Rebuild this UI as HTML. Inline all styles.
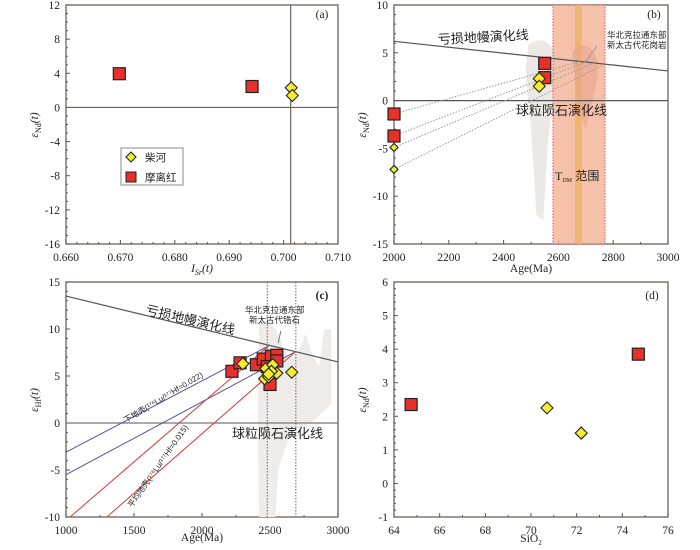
<!DOCTYPE html>
<html><head><meta charset="utf-8"><style>
body{margin:0;background:#fff}
svg{display:block;font-family:"Liberation Serif","Noto Serif CJK SC",serif}
.t{font-size:11.5px;fill:#222}
.cn{font-family:"Liberation Sans","Noto Sans CJK SC",sans-serif}
</style></head><body>
<svg id="s" width="700" height="550" viewBox="0 0 700 550"></svg>
<script>
// Panel a data
const aSqX=[0.6698,0.6942], aSqY=[3.95,2.45];
const aDiX=[0.7014,0.7016], aDiY=[2.3,1.4];
const aXTicks=[0.660,0.670,0.680,0.690,0.700,0.710];
const aYTicks=[12,8,4,0,-4,-8,-12,-16];
// Panel b data
const bSqX=[2550,2550,2000,2000], bSqY=[3.9,2.4,-1.4,-3.7];
const bDiX=[2530,2530,2000,2000], bDiY=[2.3,1.5,-4.9,-7.2];
const bDotEndX=[2680,2700,2730,2770], bDotStartY=[-1.4,-3.7,-4.9,-7.2];
const bXTicks=[2000,2200,2400,2600,2800,3000];
const bYTicks=[10,5,0,-5,-10,-15];
// Panel c data
const cSqX=[2220,2280,2400,2450,2510,2550,2550,2500,2480], cSqY=[5.5,6.4,6.2,6.8,7.1,7.2,6.6,4.1,6.0];
const cDiX=[2300,2470,2520,2460,2490,2550,2660,2510,2490], cDiY=[6.3,5.8,6.2,4.7,4.9,5.3,5.4,5.5,5.2];
const cXTicks=[1000,1500,2000,2500,3000];
const cYTicks=[15,10,5,0,-5,-10];
// Panel d data
const dSqX=[64.75,74.7], dSqY=[2.35,3.85];
const dDiX=[70.7,72.2], dDiY=[2.25,1.5];
const dXTicks=[64,66,68,70,72,74,76];
const dYTicks=[6,5,4,3,2,1,0,-1];

const NS="http://www.w3.org/2000/svg", svg=document.getElementById('s');
function el(tag,at,parent,txt){const e=document.createElementNS(NS,tag);for(const k in at)e.setAttribute(k,at[k]);if(txt!==undefined)e.textContent=txt;(parent||svg).appendChild(e);return e;}
function lin(d0,d1,r0,r1){return v=>r0+(v-d0)*(r1-r0)/(d1-d0);}

function panel(name,x0,x1,y0,y1,xd,yd,xt,yt,xfmt,minorX,minorY){
  const g=el('g',{});
  
  
  const X=lin(xd[0],xd[1],x0,x1), Y=lin(yd[0],yd[1],y1,y0);
  const fr=el('rect',{x:x0,y:y0,width:x1-x0,height:y1-y0,fill:'none',stroke:'#6b625c','stroke-width':1.3},g);
  
  
  xt.forEach(v=>{const t=el('text',{x:X(v),y:y1+17,'text-anchor':'middle',class:'t'},g,xfmt(v));
    
    el('line',{x1:X(v),x2:X(v),y1:y1,y2:y1-4,stroke:'#555'},g);});
  for(let i=0;i<xt.length-1;i++)for(let k=1;k<minorX;k++){const v=xt[i]+(xt[i+1]-xt[i])*k/minorX;el('line',{x1:X(v),x2:X(v),y1:y1,y2:y1-2,stroke:'#555'},g);}
  yt.forEach(v=>{const t=el('text',{x:x0-6,y:Y(v)+4,'text-anchor':'end',class:'t'},g,v);
    
    el('line',{x1:x0,x2:x0+4,y1:Y(v),y2:Y(v),stroke:'#555'},g);});
  for(let i=0;i<yt.length-1;i++)for(let k=1;k<minorY;k++){const v=yt[i]+(yt[i+1]-yt[i])*k/minorY;el('line',{x1:x0,x2:x0+2,y1:Y(v),y2:Y(v),stroke:'#555'},g);}
  return {g,X,Y};
}
function sq(g,x,y){const r=el('rect',{x:x-6,y:y-6,width:12,height:12,fill:'#e8302a',stroke:'#222','stroke-width':1.2},g);}
function di(g,x,y,s){s=s||6;const p=el('path',{d:`M${x} ${y-s}L${x+s} ${y}L${x} ${y+s}L${x-s} ${y}Z`,fill:'#f6ee2a',stroke:'#222','stroke-width':1.1},g);}
function ytitle(g,x,y,sub){const t=el('text',{transform:`translate(${x},${y}) rotate(-90)`,'text-anchor':'middle',class:'t','font-style':'italic'},g);
  
  el('tspan',{},t,'ε');el('tspan',{style:'font-size:8px','dy':'3','font-style':'normal'},t,sub);el('tspan',{'dy':'-3'},t,'(t)');}
function lbl(g,x,y,s,name,extra){const t=el('text',Object.assign({x:x,y:y,class:'t'},extra||{}),g,s);return t;}

// ===== Panel a
{const P=panel('panel-a',66,338,5,244,[0.660,0.710],[-16,12],aXTicks,aYTicks,v=>v.toFixed(3),5,4);
 const g=P.g,X=P.X,Y=P.Y;
 el('line',{x1:66,x2:338,y1:Y(0),y2:Y(0),stroke:'#6b625c','stroke-width':1.2},g);
 el('line',{x1:X(0.7013),x2:X(0.7013),y1:5,y2:244,stroke:'#6b625c','stroke-width':1.2},g);
 aSqX.forEach((v,i)=>sq(g,X(v),Y(aSqY[i])));
 aDiX.forEach((v,i)=>di(g,X(v),Y(aDiY[i])));
 lbl(g,322,18,'(a)','panel-label',{'text-anchor':'middle'});
 const t=lbl(g,202,272,'','x-axis-title',{'text-anchor':'middle','font-style':'italic'});
 el('tspan',{},t,'I');el('tspan',{style:'font-size:8px',dy:3},t,'Sr');el('tspan',{dy:-3},t,'(t)');
 ytitle(g,38,125,'Nd');
 const lg=el('g',{},g);
 el('rect',{x:121,y:148,width:62,height:37,fill:'#fff',stroke:'#888'},lg);
 di(lg,131,157,5);lbl(lg,145,161,'柴河','legend-label-chaihe',{class:'t cn',style:'font-size:10.5px'});
 el('rect',{x:126,y:172,width:10,height:10,fill:'#e8302a',stroke:'#222'},lg);lbl(lg,145,181,'摩离红','legend-label-molihong',{class:'t cn',style:'font-size:10.5px'});
}
// ===== Panel b
{const P=panel('panel-b',394,668,5,244,[2000,3000],[-15,10],bXTicks,bYTicks,v=>v,2,5);
 const g=P.g,X=P.X,Y=P.Y;
 el('path',{d:`M${X(2490)} ${Y(5.8)}C${X(2540)} ${Y(7)} ${X(2600)} ${Y(6)} ${X(2590)} ${Y(3)}L${X(2560)} ${Y(-5)}L${X(2545)} ${Y(-12.5)}L${X(2520)} ${Y(-12)}L${X(2500)} ${Y(-3)}L${X(2480)} ${Y(3)}Z`,fill:'#ece8e6'},g);
 el('rect',{x:X(2580),y:5,width:X(2770)-X(2580),height:239,fill:'#f5b79c',opacity:0.85,stroke:'#e04040','stroke-dasharray':'1.5,1.5'},g);
 el('rect',{x:X(2660),y:5,width:X(2685)-X(2660),height:239,fill:'#f0b36a',opacity:0.9},g);
 el('path',{d:`M${X(2650)} ${Y(5)}C${X(2680)} ${Y(6.5)} ${X(2760)} ${Y(6)} ${X(2740)} ${Y(2)}L${X(2700)} ${Y(-3)}L${X(2670)} ${Y(-1)}Z`,fill:'#e8a58a',opacity:0.6},g);
 const dm=el('line',{x1:X(2000),y1:Y(6.2),x2:X(3000),y2:Y(3.1),stroke:'#555','stroke-width':1.2},g);
 el('line',{x1:394,x2:668,y1:Y(0),y2:Y(0),stroke:'#555','stroke-width':1.2},g);
 bDotEndX.forEach((v,i)=>{const ye=6.2-(v-2000)*3.1/1000;el('line',{x1:X(2000),y1:Y(bDotStartY[i]),x2:X(v),y2:Y(ye),stroke:'#999','stroke-dasharray':'1.5,1.5'},g);});
 el('line',{x1:X(2700),y1:Y(4.1),x2:X(2740),y2:Y(5.7),stroke:'#999'},g);
 bSqX.forEach((v,i)=>sq(g,X(v),Y(bSqY[i])));
 bDiX.forEach((v,i)=>di(g,X(v),Y(bDiY[i]),i<2?6:4));
 lbl(g,654,18,'(b)','panel-label',{'text-anchor':'middle'});
 lbl(g,438,44,'亏损地幔演化线','dm-label',{class:'t cn',fill:'#555',style:'font-size:13px',transform:'rotate(-3 438 44)'});
 lbl(g,516,115,'球粒陨石演化线','chondrite-label',{class:'t cn',style:'font-size:13px',fill:'#555'});
 lbl(g,607,38,'华北克拉通东部','ncc-label-1',{class:'t cn',style:'font-size:8.5px'});
 lbl(g,607,48,'新太古代花岗岩','ncc-label-2',{class:'t cn',style:'font-size:8.5px'});
 const tt=lbl(g,555,180,'','tdm-label',{fill:'#a06050',style:'font-size:12px'});
 el('tspan',{},tt,'T');el('tspan',{style:'font-size:6px',dy:2},tt,'DM');el('tspan',{dy:-2,class:'cn'},tt,' 范围');
 lbl(g,531,272,'Age(Ma)','x-axis-title',{'text-anchor':'middle'});
 ytitle(g,366,125,'Nd');
}
// ===== Panel c
{const P=panel('panel-c',66,338,282,517,[1000,3000],[-10,15],cXTicks,cYTicks,v=>v,2,5);
 const g=P.g,X=P.X,Y=P.Y;
 el('path',{d:`M${X(2420)} ${Y(10.5)}C${X(2480)} ${Y(11.5)} ${X(2560)} ${Y(10)} ${X(2600)} ${Y(8)}C${X(2650)} ${Y(6)} ${X(2700)} ${Y(7)} ${X(2760)} ${Y(9.5)}L${X(2820)} ${Y(7)}L${X(2860)} ${Y(6)}L${X(2900)} ${Y(10)}L${X(2950)} ${Y(10)}L${X(2950)} ${Y(2)}L${X(2800)} ${Y(0)}L${X(2650)} ${Y(-1)}L${X(2560)} ${Y(-5)}L${X(2540)} ${Y(-10)}L${X(2420)} ${Y(-10)}L${X(2410)} ${Y(0)}Z`,fill:'#eeebe9'},g);
 el('line',{x1:X(1000),y1:Y(13.5),x2:X(3000),y2:Y(6.5),stroke:'#555','stroke-width':1.2},g);
 el('line',{x1:66,x2:338,y1:Y(0),y2:Y(0),stroke:'#777','stroke-width':1.2},g);
 [2480,2690].forEach(v=>el('line',{x1:X(v),x2:X(v),y1:282,y2:517,stroke:'#666','stroke-dasharray':'1.5,1.5'},g));
 el('line',{x1:X(1000),y1:Y(-3.1),x2:X(2490),y2:Y(8.2),stroke:'#5552a0'},g);
 el('line',{x1:X(1000),y1:Y(-5.5),x2:X(2690),y2:Y(7.6),stroke:'#5552a0'},g);
 el('line',{x1:X(1030),y1:Y(-10),x2:X(2490),y2:Y(8.2),stroke:'#d83a3a'},g);
 el('line',{x1:X(1300),y1:Y(-10),x2:X(2690),y2:Y(7.6),stroke:'#d83a3a'},g);
 el('line',{x1:X(2580),y1:Y(9.8),x2:X(2560),y2:Y(8.5),stroke:'#777'},g);
 cSqX.forEach((v,i)=>sq(g,X(v),Y(cSqY[i])));
 cDiX.forEach((v,i)=>di(g,X(v),Y(cDiY[i])));
 lbl(g,322,299,'(c)','panel-label',{'text-anchor':'middle','font-weight':'bold'});
 lbl(g,145,314,'亏损地幔演化线','dm-label',{class:'t cn',fill:'#555',style:'font-size:13px',transform:'rotate(13 145 314)'});
 lbl(g,232,438,'球粒陨石演化线','chondrite-label',{class:'t cn',style:'font-size:13px',fill:'#555'});
 lbl(g,245,313,'华北克拉通东部','ncc-label-1',{class:'t cn',style:'font-size:8.5px'});
 lbl(g,249,323,'新太古代锆石','ncc-label-2',{class:'t cn',style:'font-size:8.5px'});
 lbl(g,126,423,'下地壳(¹⁷⁶Lu/¹⁷⁷Hf=0.022)','lower-crust-label',{class:'t cn',style:'font-size:8px',fill:'#555',transform:'rotate(-31 126 423)'});
 lbl(g,132,508,'平均地壳(¹⁷⁶Lu/¹⁷⁷Hf=0.015)','avg-crust-label',{class:'t cn',style:'font-size:8px',fill:'#555',transform:'rotate(-55 132 508)'});
 lbl(g,202,541,'Age(Ma)','x-axis-title',{'text-anchor':'middle'});
 ytitle(g,38,400,'Hf');
}
// ===== Panel d
{const P=panel('panel-d',394,668,282,517,[64,76],[-1,6],dXTicks,dYTicks,v=>v,2,5);
 const g=P.g,X=P.X,Y=P.Y;
 dSqX.forEach((v,i)=>sq(g,X(v),Y(dSqY[i])));
 dDiX.forEach((v,i)=>di(g,X(v),Y(dDiY[i])));
 lbl(g,652,299,'(d)','panel-label',{'text-anchor':'middle'});
 const t=lbl(g,531,542,'','x-axis-title',{'text-anchor':'middle'});
 el('tspan',{},t,'SiO');el('tspan',{style:'font-size:7px',dy:3},t,'2');
 ytitle(g,366,400,'Nd');
}
</script>
</body></html>
